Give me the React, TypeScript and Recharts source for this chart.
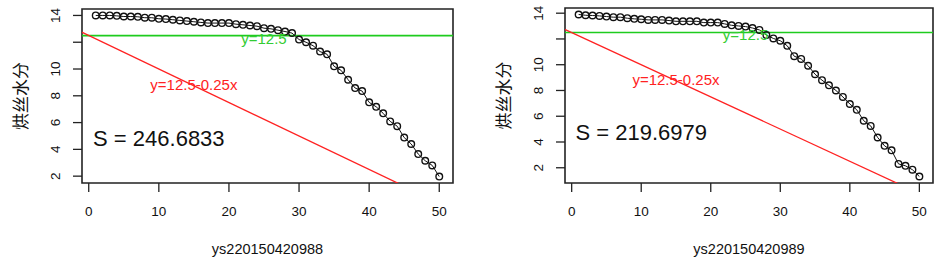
import { LineChart, Line, XAxis, YAxis, ReferenceLine, ReferenceArea, ReferenceDot } from "recharts";

// sample index along the x axis
const sampleNo = [
  1, 2, 3, 4, 5, 6, 7, 8, 9, 10, 11, 12, 13, 14, 15, 16, 17, 18, 19, 20, 21, 22, 23, 24, 25,
  26, 27, 28, 29, 30, 31, 32, 33, 34, 35, 36, 37, 38, 39, 40, 41, 42, 43, 44, 45, 46, 47, 48, 49, 50,
];

// 烘丝水分 readings, batch ...988
const moisture988 = [
  14.0, 14.0, 14.0, 13.97, 13.92, 13.92, 13.9, 13.83, 13.83, 13.75,
  13.73, 13.68, 13.63, 13.58, 13.53, 13.48, 13.43, 13.43, 13.43, 13.43,
  13.35, 13.3, 13.25, 13.2, 13.05, 13.0, 12.9, 12.8, 12.68, 12.2,
  12.0, 11.74, 11.3, 11.1, 10.2, 9.9, 9.2, 8.58, 8.35, 7.51,
  7.18, 6.69, 6.09, 5.73, 4.88, 4.4, 3.65, 3.15, 2.8, 1.97,
];

// batch ...989
const moisture989 = [
  13.9, 13.84, 13.82, 13.79, 13.74, 13.69, 13.69, 13.61, 13.56, 13.53,
  13.48, 13.48, 13.48, 13.43, 13.37, 13.37, 13.37, 13.37, 13.27, 13.27,
  13.27, 13.17, 13.06, 13.01, 12.96, 12.85, 12.7, 12.3, 12.04, 11.86,
  11.47, 10.66, 10.45, 9.92, 9.26, 8.8, 8.4, 8.0, 7.5, 6.95,
  6.5, 5.65, 5.25, 4.35, 3.7, 3.35, 2.3, 2.15, 1.85, 1.32,
];

const xTicks = [0, 10, 20, 30, 40, 50];
const yTicks = [2, 4, 6, 8, 10, 12, 14];
const unlabeledYTicks = [12]; // R drops this one, it would overlap

const target = 12.5;
const lineA = 12.5;
const lineB = -0.25;

const batches = [
  { id: "ys220150420988", values: moisture988, s: "246.6833" },
  { id: "ys220150420989", values: moisture989, s: "219.6979" },
];

const FONT = "'Liberation Sans', Arial, sans-serif";

// R style axis range: data range padded by 4% each side
function rRange(v: number[]): [number, number] {
  const lo = Math.min(...v);
  const hi = Math.max(...v);
  const pad = (hi - lo) * 0.04;
  return [lo - pad, hi + pad];
}

const YTick = (props: any) => {
  const { x, y, payload } = props;
  if (unlabeledYTicks.includes(payload.value)) return <g />;
  return (
    <text
      transform={`translate(${x},${y}) rotate(-90)`}
      textAnchor="middle"
      fontSize={13.5}
      fill="#111"
    >
      {payload.value}
    </text>
  );
};

function Panel({ id, values, s, left, yAxisW, marginTop, marginRight }: any) {
  const data = sampleNo.map((n, i) => ({ x: n, v: values[i] }));
  const xd = rRange(sampleNo);
  const yd = rRange(values);

  return (
    <div style={{ position: "absolute", left, top: 0 }}>
      <LineChart
        width={460}
        height={275}
        data={data}
        margin={{ top: marginTop, right: marginRight, left: 0, bottom: 0 }}
      >
        <XAxis
          dataKey="x"
          type="number"
          domain={xd}
          ticks={xTicks}
          allowDataOverflow
          axisLine={false}
          tickSize={9}
          tickMargin={14}
          height={92}
          tick={{ fontSize: 13.5, fill: "#111" }}
          tickLine={{ stroke: "#222", strokeWidth: 1.3 }}
          label={{
            value: id,
            content: (p: any) => {
              const vb = p.viewBox;
              return (
                <text x={vb.x + vb.width / 2} y={vb.y + 71} textAnchor="middle" fontSize={14.5} fill="#111">
                  {id}
                </text>
              );
            },
          }}
        />
        <YAxis
          type="number"
          domain={yd}
          ticks={yTicks}
          allowDataOverflow
          axisLine={false}
          width={yAxisW}
          tickSize={9}
          tickMargin={13}
          tick={<YTick />}
          tickLine={{ stroke: "#222", strokeWidth: 1.3 }}
          label={{
            value: "烘丝水分",
            content: (p: any) => {
              const vb = p.viewBox;
              const cx = vb.x + yAxisW - 63;
              const cy = vb.y + vb.height / 2;
              return (
                <text
                  transform={`translate(${cx},${cy}) rotate(-90)`}
                  textAnchor="middle"
                  dominantBaseline="central"
                  fontSize={17}
                  fill="#111"
                  fontFamily="'Noto Sans CJK SC', sans-serif"
                >
                  烘丝水分
                </text>
              );
            },
          }}
        />
        <Line
          dataKey="v"
          stroke="#111"
          strokeWidth={1}
          dot={{ r: 3.3, stroke: "#111", strokeWidth: 1.4, fill: "none" }}
          isAnimationActive={false}
        />
        <ReferenceLine y={target} stroke="#1ecc1e" strokeWidth={1.7} ifOverflow="hidden" />
        <ReferenceLine
          segment={[
            { x: -5, y: lineA + lineB * -5 },
            { x: 60, y: lineA + lineB * 60 },
          ]}
          stroke="#ff2222"
          strokeWidth={1.3}
          ifOverflow="hidden"
        />
        <ReferenceDot
          x={25}
          y={12.3}
          r={0}
          fill="none"
          stroke="none"
          label={{ value: "y=12.5", position: "center", fill: "#33cc33", fontSize: 15 }}
        />
        <ReferenceDot
          x={15}
          y={8.85}
          r={0}
          fill="none"
          stroke="none"
          label={{ value: "y=12.5-0.25x", position: "center", fill: "#ff2222", fontSize: 15 }}
        />
        <ReferenceDot
          x={10}
          y={4.8}
          r={0}
          fill="none"
          stroke="none"
          label={{ value: `S = ${s}`, position: "center", fill: "#111", fontSize: 22 }}
        />
        <ReferenceArea
          x1={xd[0]}
          x2={xd[1]}
          y1={yd[0]}
          y2={yd[1]}
          fill="none"
          stroke="#222"
          strokeWidth={1.6}
          ifOverflow="visible"
        />
      </LineChart>
    </div>
  );
}

export default function App() {
  return (
    <div
      style={{
        position: "absolute",
        left: 0,
        top: 0,
        width: 935,
        height: 275,
        background: "#fff",
        fontFamily: FONT,
        overflow: "hidden",
      }}
    >
      <Panel {...batches[0]} left={0} yAxisW={82} marginTop={9} marginRight={7} />
      <Panel {...batches[1]} left={475} yAxisW={90} marginTop={8} marginRight={2} />
    </div>
  );
}
